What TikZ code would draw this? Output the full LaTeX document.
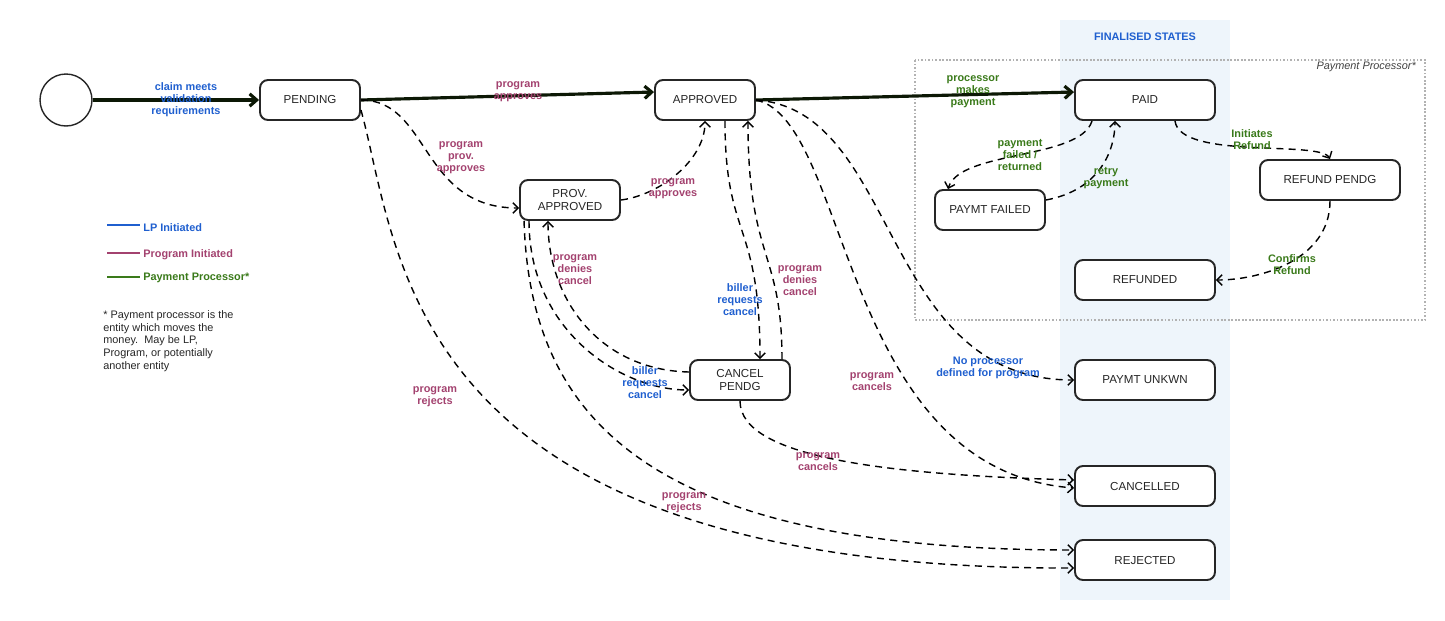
\documentclass[tikz,border=0pt]{standalone}
\usepackage{fontspec}
\setmainfont{Liberation Sans}
\usetikzlibrary{arrows.meta}
\definecolor{lpblue}{HTML}{1F5FCF}
\definecolor{prgpink}{HTML}{A3426F}
\definecolor{ppgreen}{HTML}{3A7A1A}
\definecolor{finbg}{HTML}{EEF5FB}
\tikzset{
  state/.style={draw=black!85, line width=1.1pt, rounded corners=0.16cm, fill=white,
    minimum width=2cm, minimum height=0.8cm, align=center, font=\fontsize{6.6}{7.6}\selectfont, text=black!85},
  main/.style={line width=1.8pt, draw=black!80!ppgreen, -{Straight Barb[length=4pt,width=7pt]}},
  trans/.style={line width=0.8pt, dash pattern=on 4pt off 3pt, -{Straight Barb[length=3pt,width=6pt]}},
  lbl/.style={font=\bfseries\fontsize{6.2}{6.8}\selectfont, align=center, inner sep=0pt},
  lp/.style={lbl, text=lpblue},
  prg/.style={lbl, text=prgpink},
  pp/.style={lbl, text=ppgreen}
}
\begin{document}
\begin{tikzpicture}[x=0.02cm, y=-0.02cm]
\useasboundingbox (0,0) rectangle (1445,620);

% finalised band and payment processor box
\fill[finbg] (1060,20) rectangle (1230,600);
\node[font=\bfseries\fontsize{6.2}{7}\selectfont, text=lpblue] (fin) at (1145,37) {FINALISED STATES};
\draw[black!30, dash pattern=on 1pt off 1pt, line width=0.6pt] (915,60) rectangle (1425,320);
\node[font=\itshape\fontsize{6.2}{7}\selectfont, text=black!75, anchor=east] (ppbox) at (1422,67) {Payment Processor*};

% states
\node[circle, draw=black!85, line width=0.8pt, minimum size=1.04cm] (start) at (66,100) {};
\node[state] (PEND) at (310,100) {PENDING};
\node[state] (APPR) at (705,100) {APPROVED};
\node[state, minimum width=2.8cm] (PAID) at (1145,100) {PAID};
\node[state] (PROV) at (570,200) {PROV.\\APPROVED};
\node[state, minimum width=2.2cm] (PFAIL) at (990,210) {PAYMT FAILED};
\node[state, minimum width=2.8cm] (RPEND) at (1330,180) {REFUND PENDG};
\node[state, minimum width=2.8cm] (RFND) at (1145,280) {REFUNDED};
\node[state] (CANC) at (740,380) {CANCEL\\PENDG};
\node[state, minimum width=2.8cm] (PUNK) at (1145,380) {PAYMT UNKWN};
\node[state, minimum width=2.8cm] (CNCL) at (1145,486) {CANCELLED};
\node[state, minimum width=2.8cm] (REJ) at (1145,560) {REJECTED};

% main path
\draw[main] (start) -- (PEND);
\draw[main] (PEND.east) -- ([yshift=0.16cm]APPR.west);
\draw[main] (APPR.east) -- ([yshift=0.16cm]PAID.west);

% dashed transitions
\draw[trans] (PEND.east) .. controls (430,100) and (420,208) .. ([yshift=-0.16cm]PROV.west);
\draw[trans] (PROV.east) .. controls (660,195) and (705,160) .. (APPR.south);
\draw[trans] ([xshift=0.4cm]APPR.south) .. controls (725,240) and (760,220) .. ([xshift=0.4cm]CANC.north);
\draw[trans] ([xshift=0.84cm]CANC.north) .. controls (782,250) and (748,260) .. ([xshift=0.86cm]APPR.south);
\draw[trans] ([xshift=-0.82cm]PROV.south) .. controls (529,330) and (620,390) .. ([yshift=-0.2cm]CANC.west);
\draw[trans] ([yshift=0.16cm]CANC.west) .. controls (600,370) and (548,300) .. ([xshift=-0.44cm]PROV.south);
\draw[trans] ([yshift=-0.2cm]PEND.east) .. controls (400,250) and (400,570) .. ([yshift=-0.16cm]REJ.west);
\draw[trans] ([xshift=0.1cm]PROV.south west) .. controls (530,420) and (650,550) .. ([yshift=0.2cm]REJ.west);
\draw[trans] (CANC.south) .. controls (740,460) and (900,475) .. ([yshift=0.12cm]CNCL.west);
\draw[trans] (APPR.east) .. controls (850,120) and (840,470) .. ([yshift=-0.04cm]CNCL.west);
\draw[trans] (APPR.east) .. controls (900,110) and (880,380) .. (PUNK.west);
\draw[trans] ([xshift=-1.06cm]PAID.south) .. controls (1080,160) and (960,150) .. ([xshift=-0.84cm]PFAIL.north);
\draw[trans] ([yshift=0.2cm]PFAIL.east) .. controls (1100,190) and (1115,150) .. ([xshift=-0.6cm]PAID.south);
\draw[trans] ([xshift=0.6cm]PAID.south) .. controls (1180,160) and (1320,140) .. (RPEND.north);
\draw[trans] (RPEND.south) .. controls (1330,260) and (1260,280) .. (RFND.east);

% labels
\node[lp] (l1) at (186,100) {claim meets\\validation\\requirements};
\node[prg] (l2) at (518,92) {program\\approves};
\node[pp] (l3) at (973,92) {processor\\makes\\payment};
\node[prg] (l4) at (461,158) {program\\prov.\\approves};
\node[prg] (l5) at (673,189) {program\\approves};
\node[lp] (l6) at (740,300) {biller\\requests\\cancel};
\node[prg] (l7) at (800,281) {program\\denies\\cancel};
\node[lp] (l8) at (645,383) {biller\\requests\\cancel};
\node[prg] (l9) at (575,270) {program\\denies\\cancel};
\node[prg] (l10) at (435,397) {program\\rejects};
\node[prg] (l11) at (684,503) {program\\rejects};
\node[prg] (l12) at (818,462) {program\\cancels};
\node[prg] (l13) at (872,382) {program\\cancels};
\node[lp] (l14) at (988,368) {No processor\\defined for program};
\node[pp] (l15) at (1020,155) {payment\\failed /\\returned};
\node[pp] (l16) at (1106,178) {retry\\payment};
\node[pp] (l17) at (1252,140) {Initiates\\Refund};
\node[pp] (l18) at (1292,265) {Confirms\\Refund};

% legend
\draw[lpblue, line width=1.5pt] (107,225) -- (140,225);
\node[lp, anchor=west] (lg1) at (143,228) {LP Initiated};
\draw[prgpink, line width=1.5pt] (107,253) -- (140,253);
\node[prg, anchor=west] (lg2) at (143,255) {Program Initiated};
\draw[ppgreen, line width=1.5pt] (107,277) -- (140,277);
\node[pp, anchor=west] (lg3) at (143,278) {Payment Processor*};
\node[anchor=north west, align=left, inner sep=0pt, font=\fontsize{6.2}{7.3}\selectfont, text=black!85] (note) at (103,310)
  {* Payment processor is the\\entity which moves the\\money.\ \ May be LP,\\Program, or potentially\\another entity};
\end{tikzpicture}
\end{document}
